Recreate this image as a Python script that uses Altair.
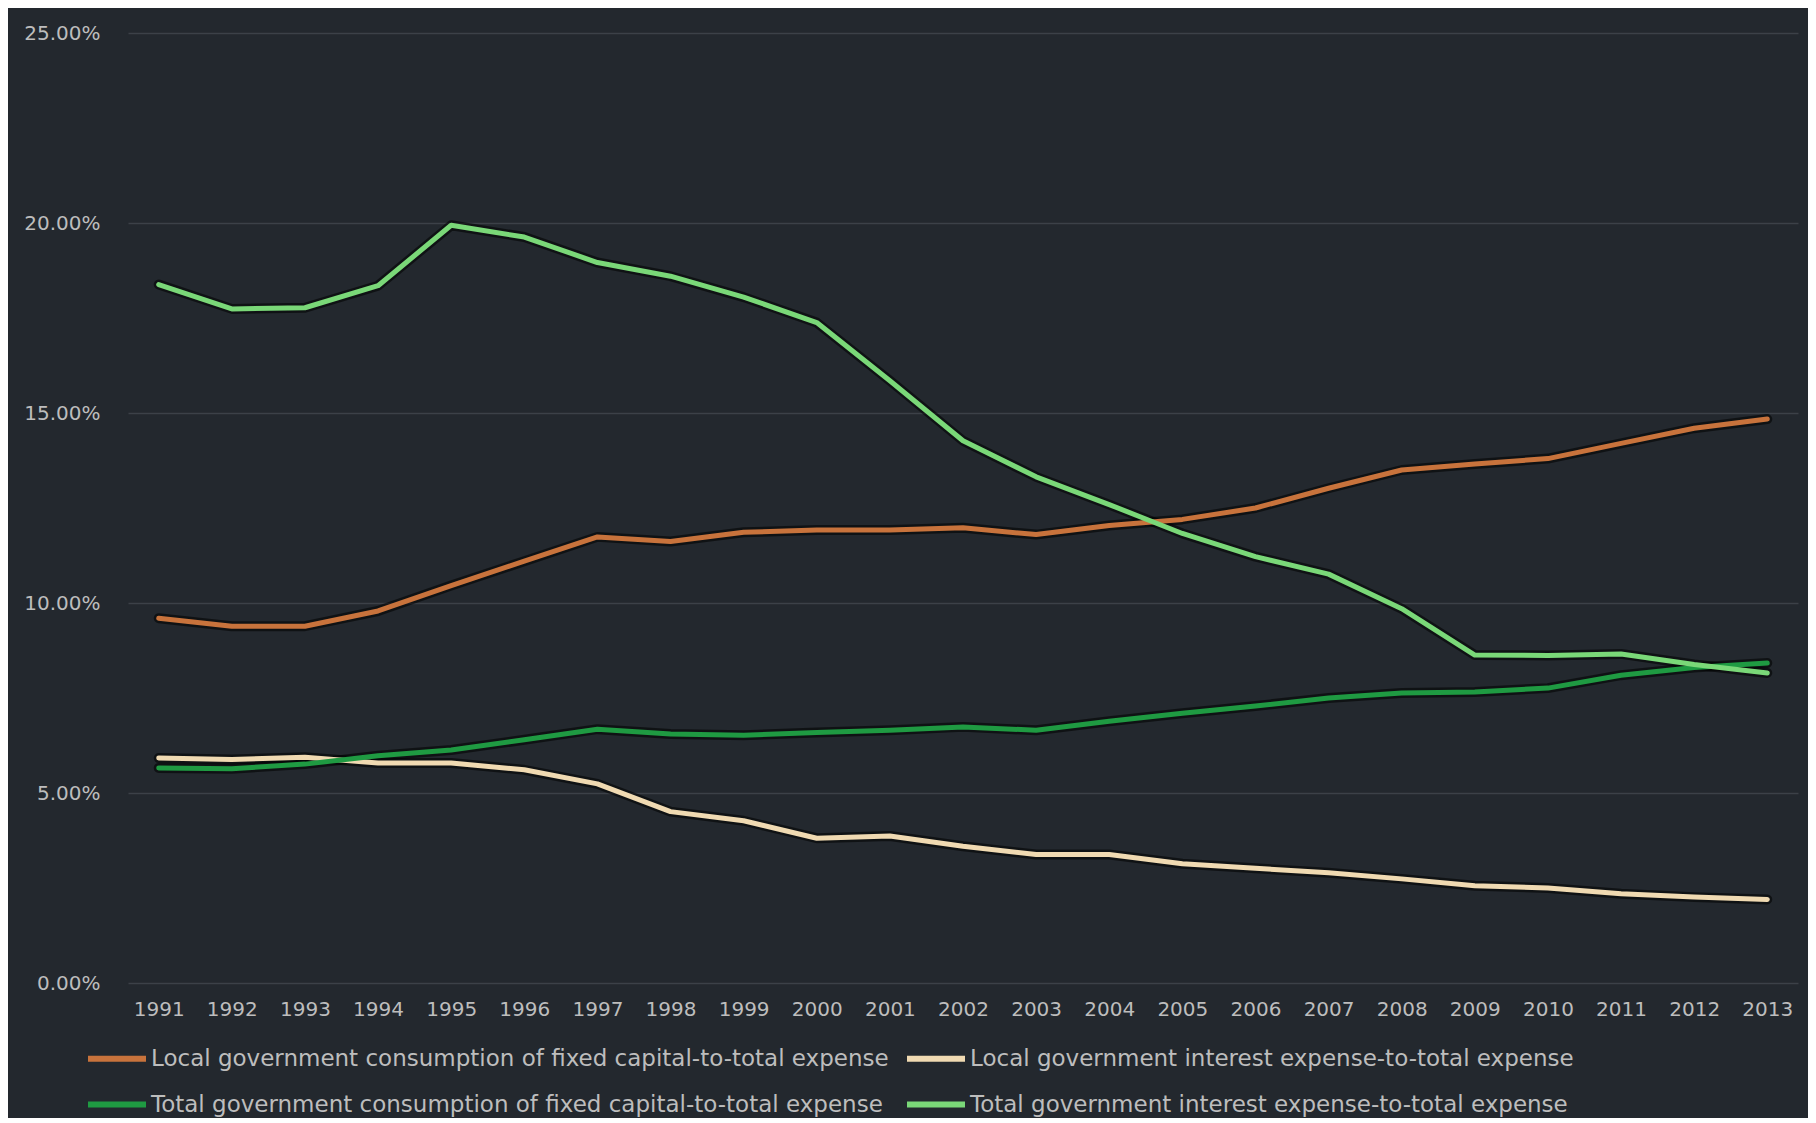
import altair as alt
import pandas as pd

years = [str(y) for y in range(1991, 2014)]

series_names = [
    "Local government consumption of fixed capital-to-total expense",
    "Local government interest expense-to-total expense",
    "Total government consumption of fixed capital-to-total expense",
    "Total government interest expense-to-total expense",
]
series_colors = ["#c8733c", "#f0dab2", "#1f9a42", "#7ad878"]

local_fixed = [9.60, 9.39, 9.39, 9.79, 10.46, 11.10, 11.74, 11.62, 11.86, 11.92, 11.92,
               11.98, 11.80, 12.04, 12.20, 12.50, 13.02, 13.50, 13.66, 13.80, 14.20, 14.60, 14.84]
local_interest = [5.92, 5.88, 5.94, 5.79, 5.79, 5.61, 5.24, 4.51, 4.27, 3.81, 3.87,
                  3.60, 3.38, 3.38, 3.14, 3.02, 2.90, 2.74, 2.56, 2.50, 2.35, 2.26, 2.20]
total_fixed = [5.66, 5.64, 5.76, 5.98, 6.13, 6.40, 6.68, 6.55, 6.52, 6.59, 6.65,
               6.74, 6.65, 6.89, 7.10, 7.29, 7.50, 7.63, 7.66, 7.76, 8.10, 8.30, 8.42]
total_interest = [18.38, 17.74, 17.77, 18.35, 19.94, 19.63, 18.96, 18.60, 18.05, 17.38, 15.85,
                  14.27, 13.32, 12.59, 11.83, 11.22, 10.76, 9.85, 8.63, 8.62, 8.66, 8.38, 8.16]

all_values = [local_fixed, local_interest, total_fixed, total_interest]
rows = []
for name, vals in zip(series_names, all_values):
    for y, v in zip(years, vals):
        rows.append({"year": y, "series": name, "value": v})
df = pd.DataFrame(rows)

FONT = "DejaVu Sans"
TXT = "#bdbdbd"
BG = "#23282e"

x_enc = alt.X("year:O", scale=alt.Scale(type="point", padding=0.42),
              axis=alt.Axis(title=None, labelAngle=0, ticks=False, domain=False,
                            labelPadding=16, labelFontSize=20, labelColor=TXT,
                            labelFont=FONT, grid=False))
y_enc = alt.Y("value:Q", scale=alt.Scale(domain=[0, 25], nice=False),
              axis=alt.Axis(title=None, values=[0, 5, 10, 15, 20, 25], ticks=False,
                            domain=False, labelPadding=28, labelFontSize=20,
                            labelColor=TXT, labelFont=FONT,
                            labelExpr="format(datum.value, '.2f') + '%'",
                            grid=True, gridColor="#5a6068", gridOpacity=0.45,
                            gridWidth=1.5))

shadow = alt.Chart(df).mark_line(strokeWidth=10, opacity=0.55, strokeCap="round",
                                 strokeJoin="round").encode(
    x=x_enc, y=y_enc,
    detail="series:N",
    color=alt.value("#000000"),
)

lines = alt.Chart(df).mark_line(strokeWidth=5, strokeCap="round",
                                strokeJoin="round").encode(
    x=x_enc, y=y_enc,
    color=alt.Color("series:N",
                    scale=alt.Scale(domain=series_names, range=series_colors),
                    sort=series_names,
                    legend=alt.Legend(title=None, orient="none", legendX=-43, legendY=1008,
                                      columns=2, direction="horizontal",
                                      symbolType="M-1,0H3", symbolSize=841,
                                      symbolStrokeWidth=6, labelOffset=31,
                                      columnPadding=6, rowPadding=16,
                                      labelFontSize=23, labelFont=FONT,
                                      labelColor=TXT, labelLimit=900)),
)

chart = alt.layer(shadow, lines).properties(
    width=1670, height=950,
    background=BG,
    padding={"left": 120, "top": 25, "right": 10, "bottom": 135},
    autosize=alt.AutoSizeParams(type="none"),
).configure_view(stroke=None)

chart.save("out.html", embed_options={"renderer": "svg", "actions": False})
